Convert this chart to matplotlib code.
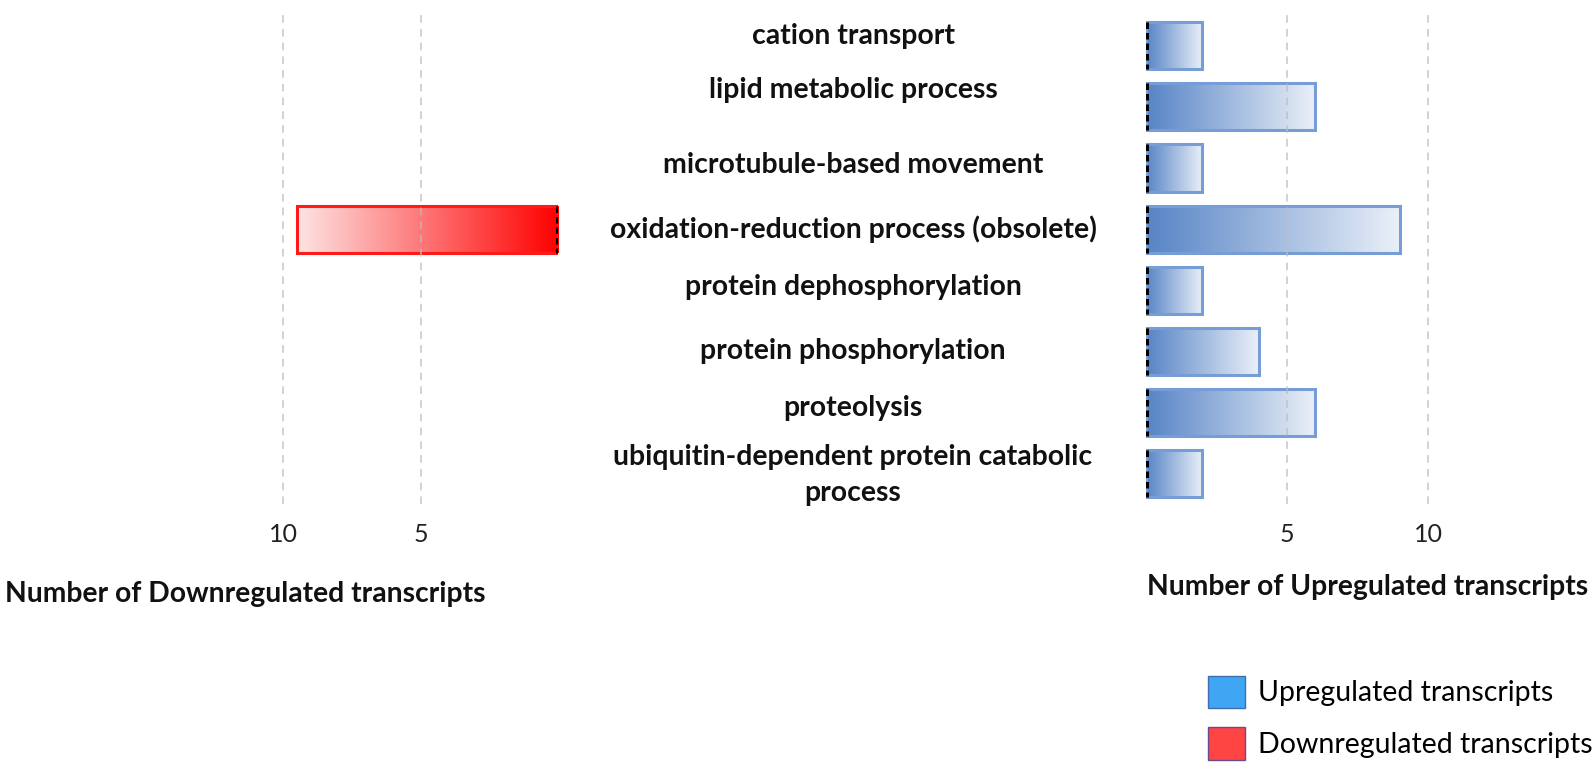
import numpy as np
import matplotlib
matplotlib.use("Agg")
import matplotlib.pyplot as plt
import matplotlib.patches as patches
from matplotlib.colors import LinearSegmentedColormap
from matplotlib.transforms import blended_transform_factory

plt.rcParams['font.family'] = ['Lato', 'DejaVu Sans']

# data
categories = [
    "cation transport",
    "lipid metabolic process",
    "microtubule-based movement",
    "oxidation-reduction process (obsolete)",
    "protein dephosphorylation",
    "protein phosphorylation",
    "proteolysis",
    "ubiquitin-dependent protein catabolic\nprocess",
]
upregulated = [2, 6, 2, 9, 2, 4, 6, 2]
downregulated = [0, 0, 0, 9.5, 0, 0, 0, 0]
tick_values = [5, 10]
down_label = "Number of Downregulated transcripts"
up_label = "Number of Upregulated transcripts"
legend_labels = ["Upregulated transcripts", "Downregulated transcripts"]

# small vertical nudges of the category labels (row units), as in the original layout
label_nudge = [-0.17, -0.27, -0.05, 0.0, -0.05, 0.0, -0.07, 0.03]

# column 0 of the gradient sits at x = 0 on both panels
blue_cmap = LinearSegmentedColormap.from_list("blue_fade", ["#5784c6", "#eaf0f8"])
red_cmap = LinearSegmentedColormap.from_list("red_fade", ["#ff0000", "#fde4e4"])
gradient = np.linspace(0, 1, 256).reshape(1, -1)

fig = plt.figure(figsize=(15.92, 7.68), dpi=100)
fig.patch.set_facecolor("white")
ax_left = fig.add_axes([0.0, 0.344, 558 / 1592, 0.636])
ax_right = fig.add_axes([1146 / 1592, 0.344, 446 / 1592, 0.636])

bar_height = 0.77
rows = np.arange(len(categories))


def draw_gradient_bars(ax, values, cmap, edge_color):
    for y, value in zip(rows, values):
        if value <= 0:
            continue
        top = y - bar_height / 2
        bottom = y + bar_height / 2
        rect = patches.Rectangle((0, top), value, bar_height, facecolor="none",
                                 edgecolor=edge_color, linewidth=2.2, zorder=3)
        ax.add_patch(rect)
        image = ax.imshow(gradient, cmap=cmap, aspect="auto",
                          extent=(0, value, bottom, top), zorder=2,
                          interpolation="bilinear")
        image.set_clip_path(rect)
        ax.vlines(0, top, bottom, colors="black", linestyles=(0, (1.3, 0.8)),
                  linewidth=3.6, zorder=6)


draw_gradient_bars(ax_right, upregulated, blue_cmap, "#779dd6")
draw_gradient_bars(ax_left, downregulated, red_cmap, "#ff1a1a")

ax_left.set_xlim(558 / 27.5, 0)
ax_right.set_xlim(0, 446 / 28.2)
for ax in (ax_left, ax_right):
    ax.set_ylim(len(categories) - 0.5, -0.5)
    ax.set_yticks([])
    ax.set_xticks(tick_values)
    ax.set_xticklabels([str(v) for v in tick_values], fontsize=18, color="#222222")
    ax.tick_params(axis="x", length=0, pad=14)
    for value in tick_values:
        ax.axvline(value, color="#bdbdbd", linestyle=(0, (5, 4)), linewidth=1.1,
                   alpha=0.85, zorder=5)
    for spine in ax.spines.values():
        spine.set_visible(False)
    ax.set_facecolor("none")

label_transform = blended_transform_factory(fig.transFigure, ax_right.transData)
for y, nudge, name in zip(rows, label_nudge, categories):
    fig.text(853 / 1592, y + nudge, name, transform=label_transform, ha="center",
             va="center", fontsize=20.4, fontweight="bold", color="#111111",
             linespacing=1.45)

fig.text(5 / 1592, 1 - 594 / 768, down_label, ha="left", va="center",
         fontsize=20.3, fontweight="bold", color="#111111")
fig.text(1588 / 1592, 1 - 587 / 768, up_label, ha="right", va="center",
         fontsize=20.3, fontweight="bold", color="#111111")

legend_handles = [
    patches.Patch(facecolor="#3ea6f2", edgecolor="#3f6db0", label=legend_labels[0]),
    patches.Patch(facecolor="#ff4444", edgecolor="#6a4a90", label=legend_labels[1]),
]
fig.legend(handles=legend_handles, loc="lower left", bbox_to_anchor=(1208 / 1592, 8 / 768),
           frameon=False, fontsize=20.5, handlelength=1.3, handleheight=1.38,
           handletextpad=0.45, labelspacing=0.68, borderaxespad=0.0, borderpad=0.0)

fig.savefig("out.png", dpi=100, facecolor="white")
